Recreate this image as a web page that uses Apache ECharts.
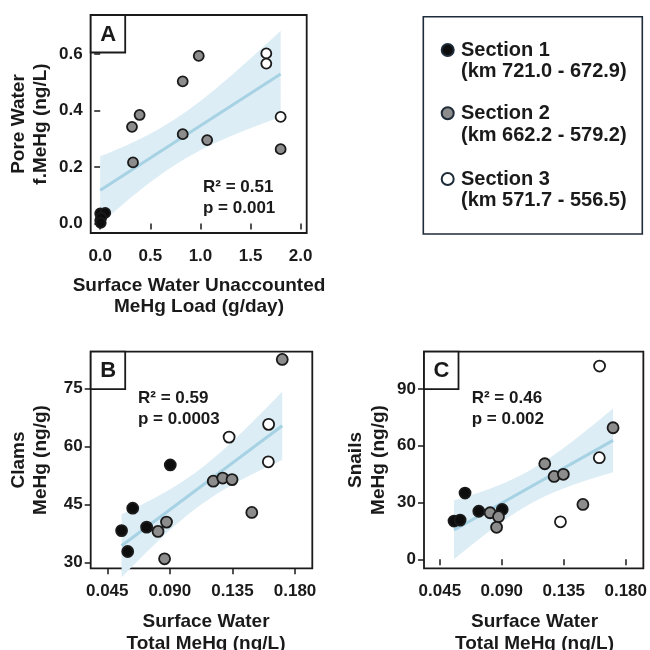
<!DOCTYPE html>
<html>
<head>
<meta charset="utf-8">
<script src="https://cdn.jsdelivr.net/npm/echarts@6/dist/echarts.min.js"></script>
<style>
  html, body { margin: 0; padding: 0; background: #fff; }
  #chart { width: 650px; height: 650px; }
</style>
</head>
<body>
<div id="chart"></div>
<script>
// Panel A: unaccounted surface water MeHg load (g/day) vs pore water f.MeHg (ng/L)
const aSec1X = [0.000, 0.050, 0.000, 0.010, 0.005];
const aSec1Y = [0.035, 0.037, 0.010, 0.020, 0.002];
const aSec2X = [0.327, 0.317, 0.393, 0.823, 0.823, 0.983, 1.067, 1.800];
const aSec2Y = [0.216, 0.342, 0.384, 0.503, 0.316, 0.593, 0.295, 0.263];
const aSec3X = [1.657, 1.657, 1.800];
const aSec3Y = [0.602, 0.566, 0.377];

// Panels B and C: surface water total MeHg (ng/L), shared by both panels
const sec1X = [0.0553, 0.0597, 0.0633, 0.0733, 0.0903];
const sec2X = [0.0815, 0.0876, 0.0862, 0.1212, 0.1280, 0.1347, 0.1489, 0.1708];
const sec3X = [0.1326, 0.1610, 0.1608];

// Panel B: clams MeHg (ng/g)
const clamsSec1 = [38.2, 32.8, 44.0, 39.1, 55.2];
const clamsSec2 = [38.0, 40.4, 30.9, 51.0, 51.8, 51.4, 42.9, 82.5];
const clamsSec3 = [62.4, 65.7, 56.0];

// Panel C: snails MeHg (ng/g)
const snailsSec1 = [20.2, 20.7, 35.0, 25.4, 26.3];
const snailsSec2 = [24.6, 22.5, 16.9, 50.5, 43.8, 44.9, 29.0, 69.5];
const snailsSec3 = [19.8, 102.1, 53.7];

// tick labels
const aXTicks = [0, 0.5, 1, 1.5, 2];
const aYTicks = [0, 0.2, 0.4, 0.6];
const bcXTicks = [0.045, 0.09, 0.135, 0.18];
const bYTicks = [30, 45, 60, 75];
const cYTicks = [0, 30, 60, 90];

const sectionNames = ['Section 1', 'Section 2', 'Section 3'];
const sectionRanges = ['(km 721.0 - 672.9)', '(km 662.2 - 579.2)', '(km 571.7 - 556.5)'];
const statsA = ['R\u00b2 = 0.51', 'p = 0.001'];
const statsB = ['R\u00b2 = 0.59', 'p = 0.0003'];
const statsC = ['R\u00b2 = 0.46', 'p = 0.002'];

const T975 = 2.145; // t quantile, df = 14

const FONT = '"Liberation Sans", Arial, sans-serif';
const INK = '#1a1a1a';
const fills = ['#0d0d0d', '#8c8c8c', '#ffffff'];
const BAND = '#dcedf5';
const FIT = '#a6d2e4';

const zip = (xs, ys) => xs.map((x, i) => [x, ys[i]]);

// ordinary least squares with 95% confidence band
function fit(xs, ys, steps) {
  const n = xs.length;
  const mx = xs.reduce((s, v) => s + v, 0) / n;
  const my = ys.reduce((s, v) => s + v, 0) / n;
  let sxx = 0, sxy = 0;
  xs.forEach((x, i) => { sxx += (x - mx) ** 2; sxy += (x - mx) * (ys[i] - my); });
  const b = sxy / sxx;
  const a = my - b * mx;
  let sse = 0;
  xs.forEach((x, i) => { sse += (ys[i] - a - b * x) ** 2; });
  const s = Math.sqrt(sse / (n - 2));
  const x0 = Math.min(...xs), x1 = Math.max(...xs);
  const band = [];
  for (let k = 0; k <= steps; k++) {
    const x = x0 + (x1 - x0) * k / steps;
    const h = T975 * s * Math.sqrt(1 / n + (x - mx) ** 2 / sxx);
    band.push([x, a + b * x - h, a + b * x + h]);
  }
  return { line: [[x0, a + b * x0], [x1, a + b * x1]], band };
}

const fitA = fit(aSec1X.concat(aSec2X, aSec3X), aSec1Y.concat(aSec2Y, aSec3Y), 40);
const allBC = sec1X.concat(sec2X, sec3X);
const fitB = fit(allBC, clamsSec1.concat(clamsSec2, clamsSec3), 40);
const fitC = fit(allBC, snailsSec1.concat(snailsSec2, snailsSec3), 40);

const labelStyle = { fontFamily: FONT, fontWeight: 'bold', fontSize: 17, color: INK };

function xAxisFor(idx, min, max, ticks, digits) {
  return {
    type: 'value', gridIndex: idx, min, max,
    splitLine: { show: false }, axisLine: { show: false },
    axisTick: { customValues: ticks, length: 6, lineStyle: { color: INK, width: 1.5 } },
    axisLabel: Object.assign({ customValues: ticks, margin: 15, formatter: v => v.toFixed(digits) }, labelStyle)
  };
}
function yAxisFor(idx, min, max, ticks, digits) {
  return {
    type: 'value', gridIndex: idx, min, max,
    splitLine: { show: false }, axisLine: { show: false },
    axisTick: { customValues: ticks, length: 6, lineStyle: { color: INK, width: 1.5 } },
    axisLabel: Object.assign({ customValues: ticks, margin: 8, formatter: v => v.toFixed(digits) }, labelStyle)
  };
}

function panelSeries(idx, f, pts, size) {
  const out = [
    {
      type: 'custom', xAxisIndex: idx, yAxisIndex: idx, z: 1, silent: true,
      data: f.band,
      renderItem: (params, api) => {
        if (params.dataIndex !== 0) return null;
        const lower = f.band.map(p => api.coord([p[0], p[1]]));
        const upper = f.band.map(p => api.coord([p[0], p[2]])).reverse();
        return { type: 'polygon', shape: { points: lower.concat(upper) }, style: { fill: BAND } };
      }
    },
    {
      type: 'line', xAxisIndex: idx, yAxisIndex: idx, z: 2, data: f.line,
      showSymbol: false, lineStyle: { color: FIT, width: 3 }
    }
  ];
  pts.forEach((d, i) => {
    out.push({
      type: 'scatter', xAxisIndex: idx, yAxisIndex: idx, z: 3, data: d,
      symbol: 'circle', symbolSize: size,
      itemStyle: { color: fills[i], borderColor: INK, borderWidth: 1.8, opacity: 1 }
    });
  });
  return out;
}

const grids = [
  { left: 90.7, top: 15, width: 216, height: 218 },
  { left: 90.7, top: 351.7, width: 221.6, height: 216.6 },
  { left: 424, top: 351.7, width: 221, height: 216.6 }
].map(g => Object.assign({ show: true, borderColor: INK, borderWidth: 1.8, backgroundColor: 'transparent' }, g));

const g = [];
const textEl = (x, y, text, size, opts) => Object.assign({
  type: 'text', x, y, z: 10,
  style: Object.assign({ text, font: 'bold ' + size + 'px ' + FONT, fill: INK, align: 'center', verticalAlign: 'middle' }, opts || {})
}, {});
const vText = (x, y, text) => ({
  type: 'text', x, y, rotation: Math.PI / 2, z: 10,
  style: { text, font: 'bold 19px ' + FONT, fill: INK, align: 'center', verticalAlign: 'middle' }
});

// panel letters
[['A', 90.7, 15], ['B', 90.7, 351.7], ['C', 424, 351.7]].forEach(([t, x, y]) => {
  g.push({ type: 'rect', z: 9, shape: { x, y, width: 34.5, height: 37.5 }, style: { fill: '#fff', stroke: INK, lineWidth: 1.8 } });
  g.push(textEl(x + 17.5, y + 19.5, t, 22));
});

// stats
[[statsA, 203, 187], [statsB, 138, 398.3], [statsC, 471.7, 398.3]].forEach(([s, x, y]) => {
  g.push(textEl(x, y, s[0], 17, { align: 'left' }));
  g.push(textEl(x, y + 21.5, s[1], 17, { align: 'left' }));
});

// axis titles
g.push(textEl(199, 286, 'Surface Water Unaccounted', 19));
g.push(textEl(199, 306.5, 'MeHg Load (g/day)', 19));
g.push(textEl(206, 621.7, 'Surface Water', 19));
g.push(textEl(206, 643.3, 'Total MeHg (ng/L)', 19));
g.push(textEl(534.5, 621.7, 'Surface Water', 19));
g.push(textEl(534.5, 643.3, 'Total MeHg (ng/L)', 19));
g.push(vText(18.8, 124, 'Pore Water'));
g.push(vText(41, 124, 'f.MeHg (ng/L)'));
g.push(vText(19, 460, 'Clams'));
g.push(vText(40.8, 460, 'MeHg (ng/g)'));
g.push(vText(356, 460, 'Snails'));
g.push(vText(379, 460, 'MeHg (ng/g)'));

// legend box
g.push({ type: 'rect', z: 9, shape: { x: 423.3, y: 16.7, width: 219, height: 217.3 }, style: { fill: '#fff', stroke: '#1e2b38', lineWidth: 1.6 } });
[50, 113.3, 179].forEach((y, i) => {
  g.push({ type: 'circle', z: 10, shape: { cx: 447.7, cy: y, r: 6 }, style: { fill: fills[i], stroke: '#1e2b38', lineWidth: 2 } });
  g.push(textEl(461, y, sectionNames[i], 20, { align: 'left' }));
  g.push(textEl(461, y + 21.7, sectionRanges[i], 20, { align: 'left' }));
});

const option = {
  animation: false,
  backgroundColor: '#fff',
  grid: grids,
  xAxis: [
    xAxisFor(0, -0.095, 2.06, aXTicks, 1),
    xAxisFor(1, 0.0331, 0.1924, bcXTicks, 3),
    xAxisFor(2, 0.0335, 0.1928, bcXTicks, 3)
  ],
  yAxis: [
    yAxisFor(0, -0.034, 0.738, aYTicks, 1),
    yAxisFor(1, 28.45, 84.5, bYTicks, 0),
    yAxisFor(2, -4.76, 109.7, cYTicks, 0)
  ],
  series: [].concat(
    panelSeries(0, fitA, [zip(aSec1X, aSec1Y), zip(aSec2X, aSec2Y), zip(aSec3X, aSec3Y)], 10),
    panelSeries(1, fitB, [zip(sec1X, clamsSec1), zip(sec2X, clamsSec2), zip(sec3X, clamsSec3)], 11),
    panelSeries(2, fitC, [zip(sec1X, snailsSec1), zip(sec2X, snailsSec2), zip(sec3X, snailsSec3)], 11)
  ),
  graphic: g
};

const chart = echarts.init(document.getElementById('chart'), null, { renderer: 'canvas' });
chart.setOption(option);
</script>
</body>
</html>
